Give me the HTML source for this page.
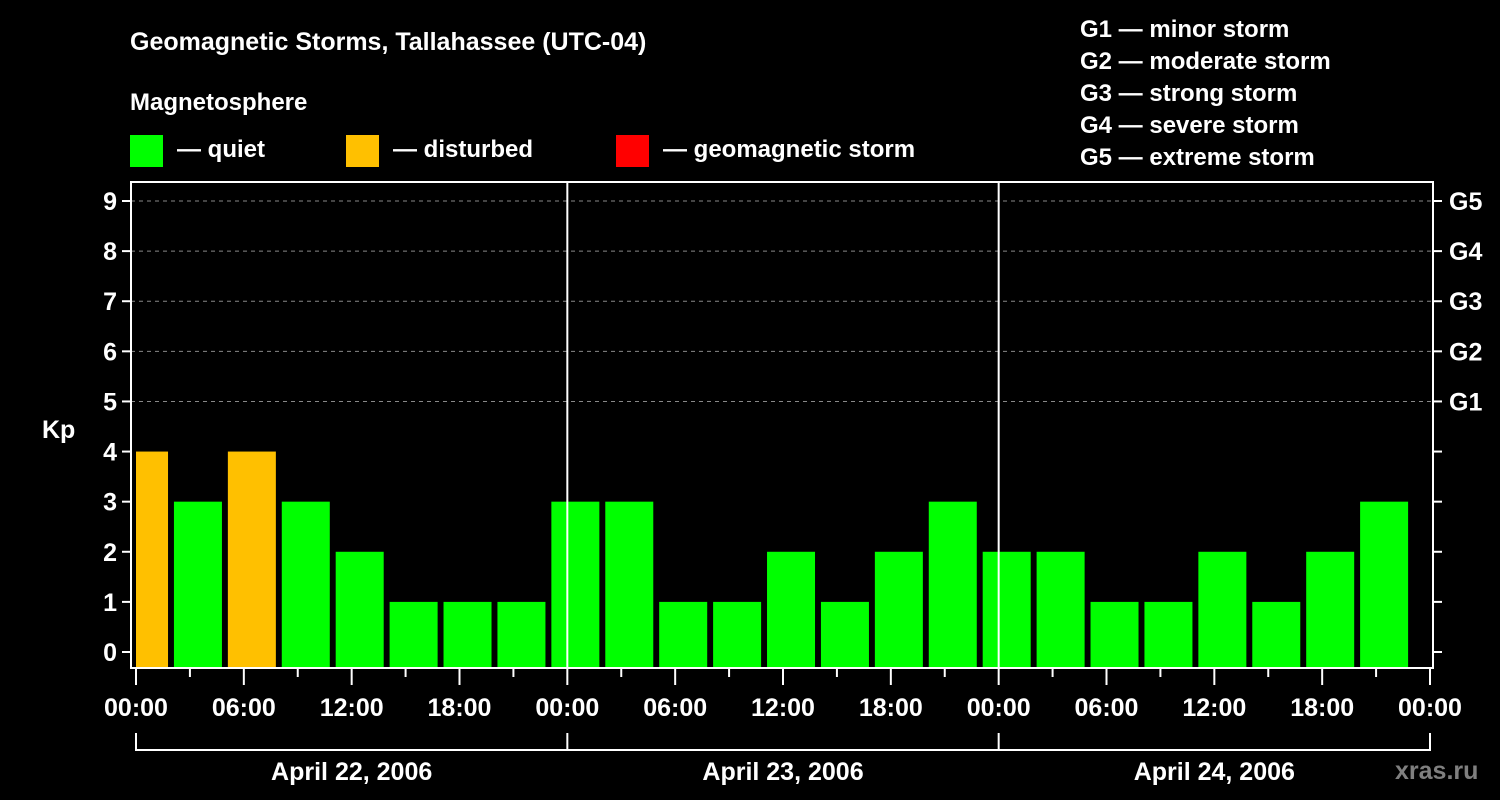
<!DOCTYPE html>
<html><head><meta charset="utf-8"><style>
html,body{margin:0;padding:0;background:#000;}
svg{display:block;font-family:"Liberation Sans",Arial,sans-serif;font-weight:bold;}
</style></head><body>
<svg id="chart" width="1500" height="800" viewBox="0 0 1500 800">
<rect x="0" y="0" width="1500" height="800" fill="#000"/>
<text x="130" y="50" fill="#fff" font-size="25">Geomagnetic Storms, Tallahassee (UTC-04)</text>
<text x="130" y="110" fill="#fff" font-size="24">Magnetosphere</text>
<g><rect x="130" y="135" width="33" height="32" fill="#00ff00"/><text x="177" y="157" fill="#fff" font-size="24">— quiet</text></g>
<g><rect x="346" y="135" width="33" height="32" fill="#ffc000"/><text x="393" y="157" fill="#fff" font-size="24">— disturbed</text></g>
<g><rect x="616" y="135" width="33" height="32" fill="#ff0000"/><text x="663" y="157" fill="#fff" font-size="24">— geomagnetic storm</text></g>
<g fill="#fff" font-size="24">
<text x="1080" y="37">G1 — minor storm</text>
<text x="1080" y="69">G2 — moderate storm</text>
<text x="1080" y="101">G3 — strong storm</text>
<text x="1080" y="133">G4 — severe storm</text>
<text x="1080" y="165">G5 — extreme storm</text>
</g>
<text x="42" y="438" fill="#fff" font-size="25">Kp</text>
<text x="1395" y="779" fill="#7f7f7f" font-size="25">xras.ru</text>
<g id="grid"></g>
<g id="bars"></g>
<g id="axes"></g>
</svg>
<script>
const kpValues = [4,3,4,3,2,1,1,1, 3,3,1,1,2,1,2,3, 2,2,1,1,2,1,2,3];
const yTicks = [0,1,2,3,4,5,6,7,8,9];
const gLabels = ["G1","G2","G3","G4","G5"];
const gLevels = [5,6,7,8,9];
const xTickLabels = ["00:00","06:00","12:00","18:00","00:00","06:00","12:00","18:00","00:00","06:00","12:00","18:00","00:00"];
const dayLabels = ["April 22, 2006","April 23, 2006","April 24, 2006"];

const NS="http://www.w3.org/2000/svg";
const L=131,R=1433,T=182,B=668;
const x0=136,x1=1430,hours=72;
function xs(h){return x0+(x1-x0)*h/hours;}
function ys(v){return 652-(652-201)*v/9;}
function mk(tag,attrs,parent){const e=document.createElementNS(NS,tag);for(const k in attrs)e.setAttribute(k,attrs[k]);parent.appendChild(e);return e;}
const grid=document.getElementById('grid'),bars=document.getElementById('bars'),axes=document.getElementById('axes');

gLevels.forEach(v=>{const l=mk('line',{x1:L,x2:R,y1:ys(v),y2:ys(v),stroke:'#888','stroke-width':1,'stroke-dasharray':'4,4'},grid);

});

kpValues.forEach((v,i)=>{
 let a=xs(3*i-1)+2,b=a+48;
 if(a<x0)a=x0;
 const col=v>=5?'#ff0000':(v>=4?'#ffc000':'#00ff00');
 const r=mk('rect',{x:a,y:ys(v),width:b-a,height:B-ys(v),fill:col},bars);
 
 
});

// day separators
[1,2].forEach(d=>{const l=mk('line',{x1:xs(24*d),x2:xs(24*d),y1:T,y2:B,stroke:'#fff','stroke-width':2},axes);

});

const frame=mk('rect',{x:L,y:T,width:R-L,height:B-T,fill:'none',stroke:'#fff','stroke-width':2},axes);



yTicks.forEach(v=>{
 mk('line',{x1:L-9,x2:L,y1:ys(v),y2:ys(v),stroke:'#fff','stroke-width':2},axes);
 mk('line',{x1:R,x2:R+9,y1:ys(v),y2:ys(v),stroke:'#fff','stroke-width':2},axes);
 const t=mk('text',{x:L-14,y:ys(v)+9,fill:'#fff','font-size':25,'text-anchor':'end'},axes);
 t.textContent=v;
 
 
});
gLevels.forEach((v,i)=>{
 const t=mk('text',{x:R+16,y:ys(v)+9,fill:'#fff','font-size':25},axes);
 t.textContent=gLabels[i];
 
 
});
for(let h=0;h<=hours;h+=3){
 const major=h%6===0;
 mk('line',{x1:xs(h),x2:xs(h),y1:B,y2:major?685:677,stroke:'#fff','stroke-width':2},axes);
}
xTickLabels.forEach((s,i)=>{
 const t=mk('text',{x:xs(6*i),y:716,fill:'#fff','font-size':25,'text-anchor':'middle'},axes);
 t.textContent=s;
 
 
});
mk('line',{x1:x0,x2:x1,y1:750,y2:750,stroke:'#fff','stroke-width':2},axes);
for(let d=0;d<=3;d++)mk('line',{x1:xs(24*d),x2:xs(24*d),y1:733,y2:751,stroke:'#fff','stroke-width':2},axes);
dayLabels.forEach((s,i)=>{
 const t=mk('text',{x:xs(24*i+12),y:780,fill:'#fff','font-size':25,'text-anchor':'middle'},axes);
 t.textContent=s;
 
 
});
</script>
</body></html>
